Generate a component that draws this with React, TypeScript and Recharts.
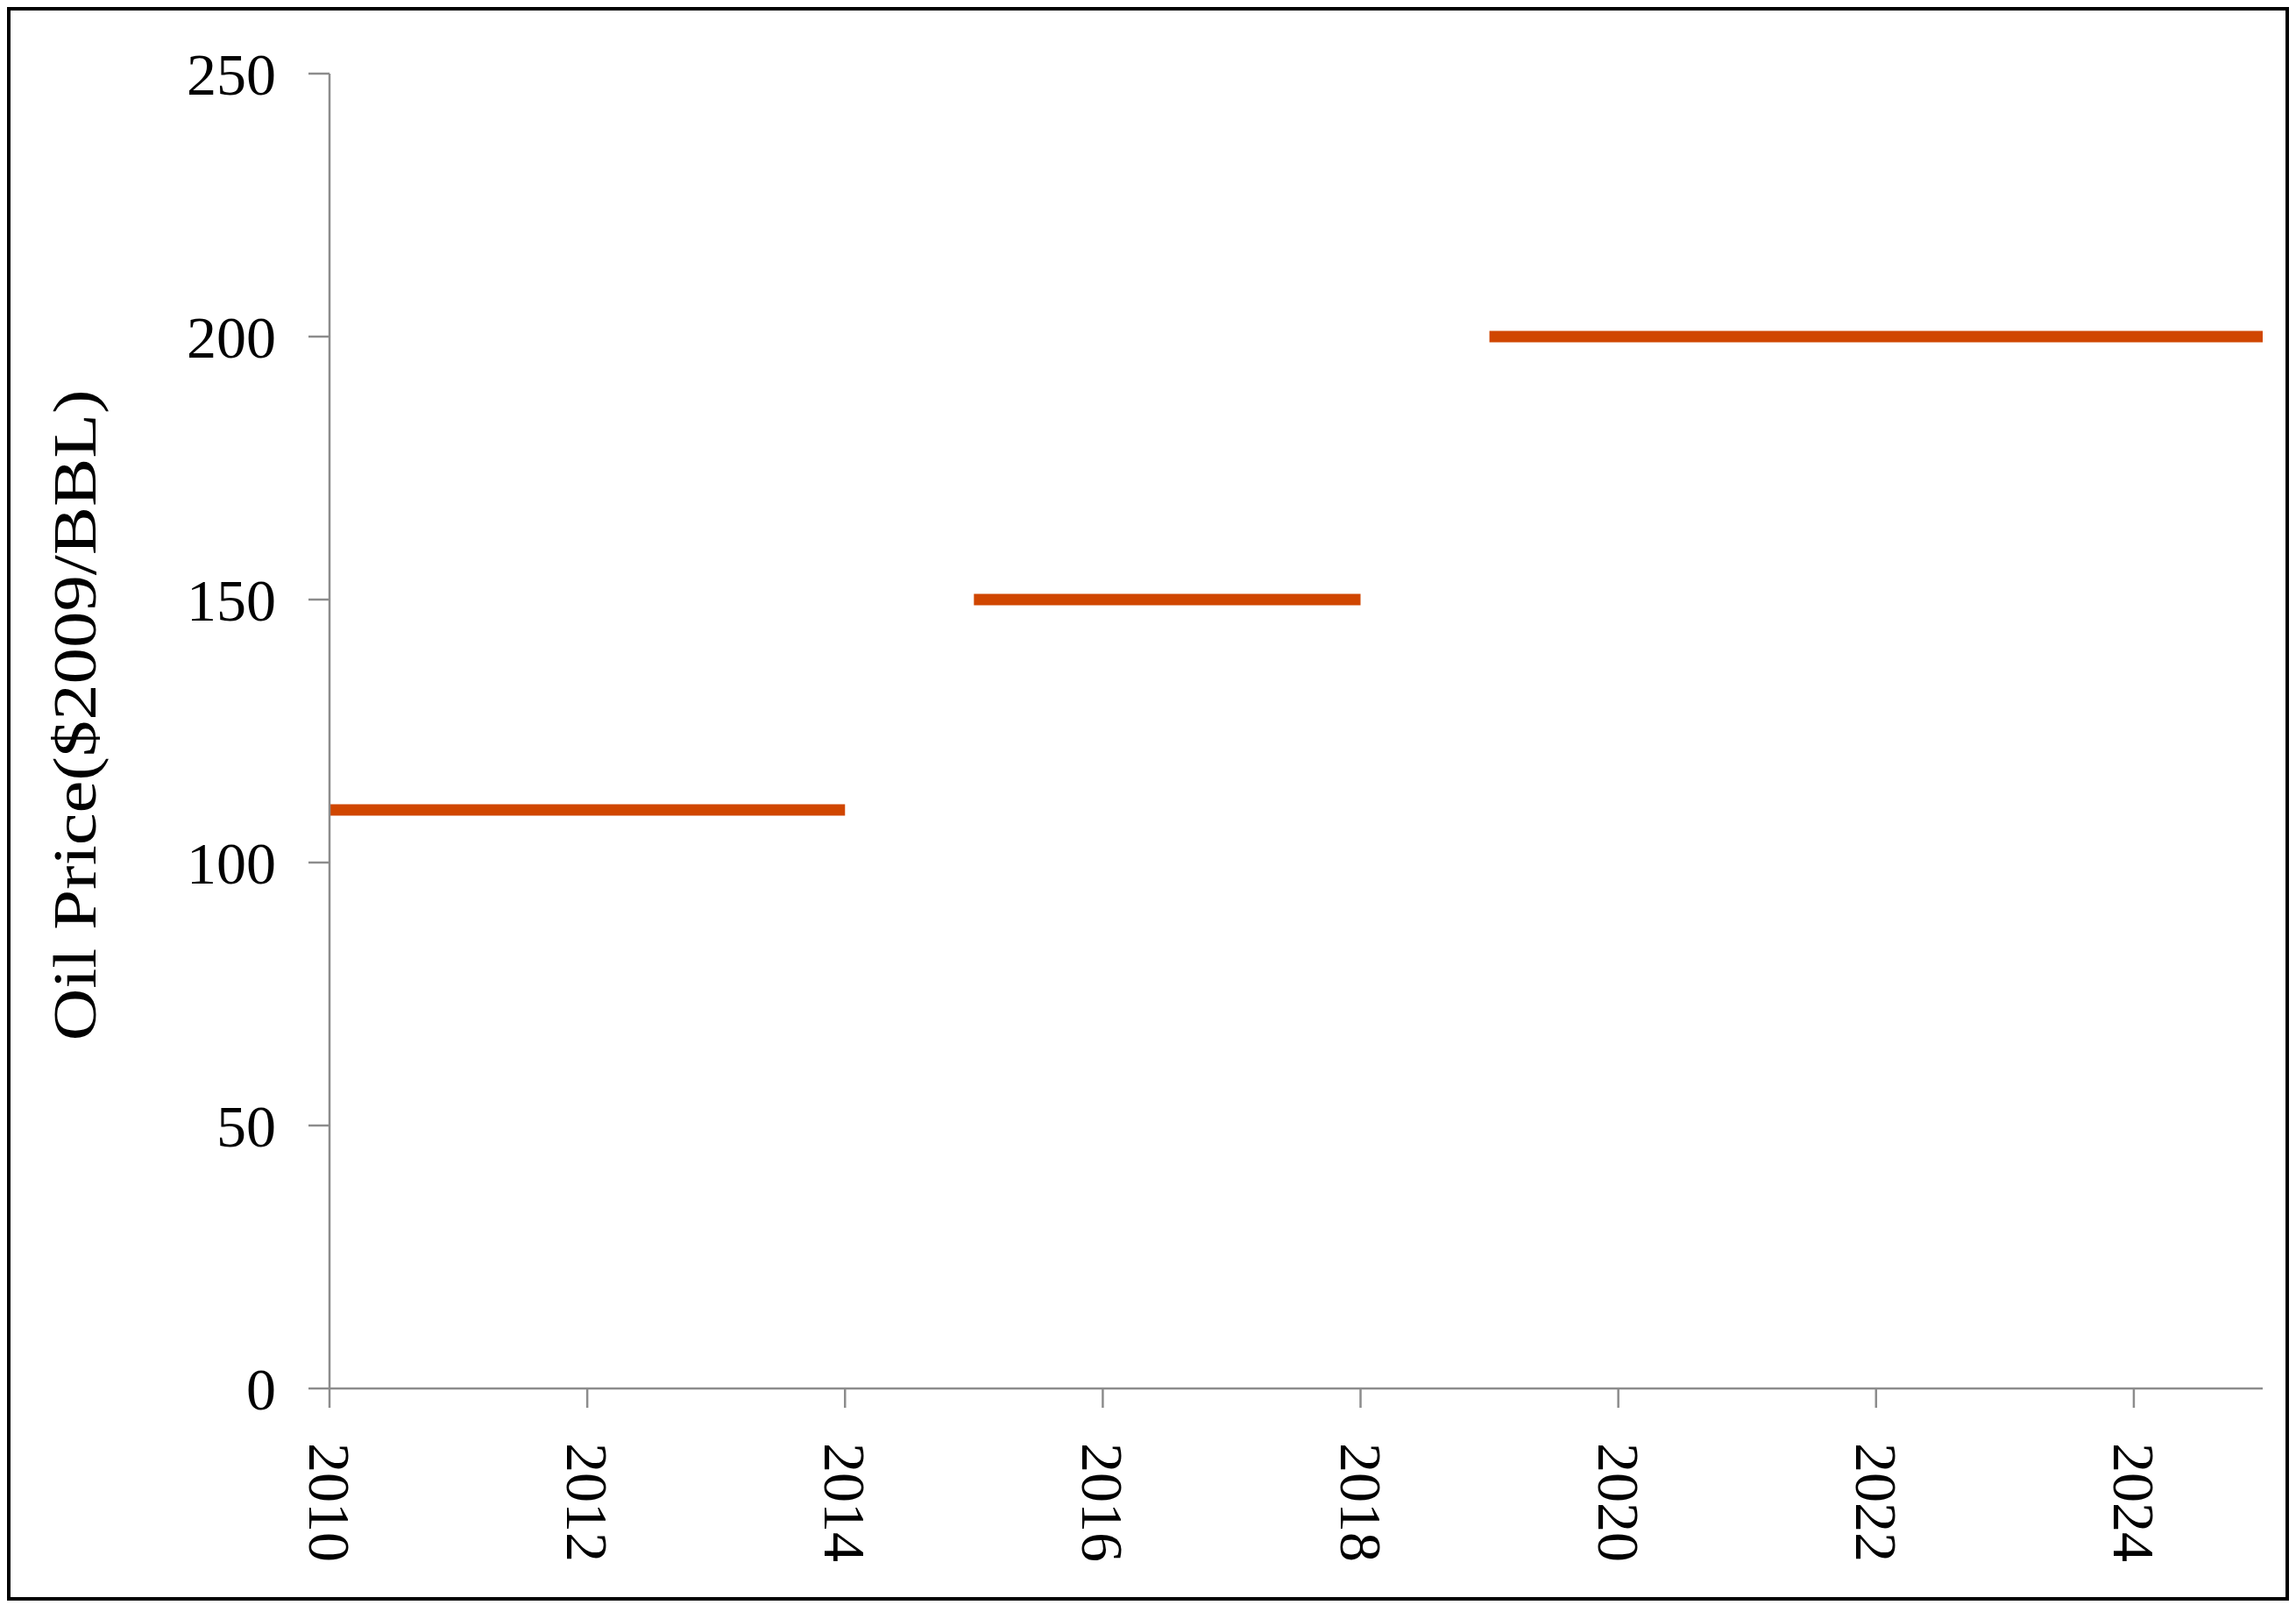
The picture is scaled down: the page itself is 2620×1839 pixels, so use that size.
import React from "react";
import { LineChart, Line, XAxis, YAxis } from "recharts";

// Oil price scenario: flat price levels over three periods
const periodA = [
  { year: 2010, price: 110 },
  { year: 2014, price: 110 },
];
const periodB = [
  { year: 2015, price: 150 },
  { year: 2018, price: 150 },
];
const periodC = [
  { year: 2019, price: 200 },
  { year: 2025, price: 200 },
];

const yearTicks = [2010, 2012, 2014, 2016, 2018, 2020, 2022, 2024];
const priceTicks = [0, 50, 100, 150, 200, 250];

const FONT = "'Liberation Serif', 'Times New Roman', serif";
const AXIS_COLOR = "#8c8c8c";
const LINE_COLOR = "#D04600";

// rotated year labels, reading top to bottom
const YearTick = (props: any) => {
  const { x, y, payload } = props;
  return (
    <text
      transform={`translate(${x},${y}) rotate(90)`}
      textAnchor="start"
      dominantBaseline="central"
      fontFamily={FONT}
      fontSize={68}
      fill="#000"
    >
      {payload.value}
    </text>
  );
};

const YTitle = (props: any) => {
  const { viewBox } = props;
  const cy = viewBox.y + viewBox.height / 2 - 18;
  return (
    <text
      transform={`translate(73,${cy}) rotate(-90)`}
      textAnchor="middle"
      dominantBaseline="central"
      fontFamily={FONT}
      fontSize={70}
      textLength={743}
      lengthAdjust="spacingAndGlyphs"
      fill="#000"
    >
      Oil Price($2009/BBL)
    </text>
  );
};

const App = () => {
  return (
    <div
      style={{
        width: 2604,
        height: 1818,
        border: "4px solid #000",
        boxSizing: "border-box",
        background: "#fff",
      }}
    >
      <LineChart
        width={2596}
        height={1810}
        margin={{ top: 72, right: 26, bottom: 38, left: 164 }}
      >
        <XAxis
          dataKey="year"
          type="number"
          domain={[2010, 2025]}
          ticks={yearTicks}
          allowDuplicatedCategory={false}
          height={200}
          stroke={AXIS_COLOR}
          strokeWidth={2.5}
          tickSize={22}
          tickMargin={40}
          tick={<YearTick />}
        />
        <YAxis
          type="number"
          domain={[0, 250]}
          ticks={priceTicks}
          width={200}
          stroke={AXIS_COLOR}
          strokeWidth={2.5}
          tickSize={24}
          tickMargin={37}
          tick={{ fill: "#000", fontFamily: FONT, fontSize: 68 }}
          label={<YTitle />}
        />
        <Line
          data={periodA}
          dataKey="price"
          stroke={LINE_COLOR}
          strokeWidth={13}
          strokeLinecap="butt"
          dot={false}
          isAnimationActive={false}
        />
        <Line
          data={periodB}
          dataKey="price"
          stroke={LINE_COLOR}
          strokeWidth={13}
          strokeLinecap="butt"
          dot={false}
          isAnimationActive={false}
        />
        <Line
          data={periodC}
          dataKey="price"
          stroke={LINE_COLOR}
          strokeWidth={13}
          strokeLinecap="butt"
          dot={false}
          isAnimationActive={false}
        />
      </LineChart>
    </div>
  );
};

export default App;
